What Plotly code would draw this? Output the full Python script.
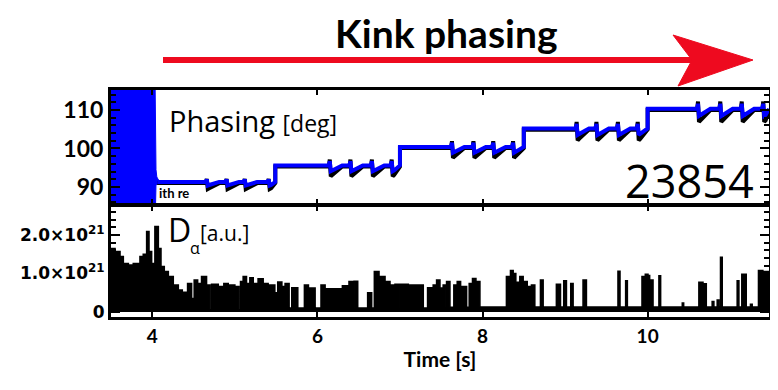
import plotly.graph_objects as go

# ---------------- data ----------------
# Top panel: coil phasing [deg]
seg_start = [4.06, 5.49, 7.00, 8.50, 10.00]
seg_end = [5.49, 7.00, 8.50, 10.00, 11.47]
levels = [91.3, 95.6, 100.4, 105.2, 110.3]
dip_times = [
    [4.66, 4.90, 5.12, 5.41],
    [6.15, 6.40, 6.66, 6.90],
    [7.63, 7.89, 8.13, 8.37],
    [9.14, 9.38, 9.64, 9.88],
    [10.61, 10.88, 11.14, 11.40],
]
dip_amp = [0.55, 0.9, 0.9, 1.0, 1.1]
dip_dt = [-0.012, 0.0, 0.012, 0.03, 0.15]
dip_dv = [0.0, 2.0, -2.8, -2.4, 0.0]

# saturated start of the phasing signal (blue block)
burst_t = [3.50, 3.50, 4.035, 4.040, 4.045, 4.055, 4.075, 4.10, 4.10, 4.045, 4.040]
burst_v = [85.7, 115.2, 115.2, 100.0, 94.5, 92.6, 91.8, 91.5, 90.8, 90.6, 85.7]

# Bottom panel: D-alpha [1e21 a.u.], step samples (time, value)
da_t = [3.500, 3.549, 3.609, 3.649, 3.710, 3.770, 3.851, 3.891, 3.932, 3.960,
        3.992, 4.032, 4.073, 4.105, 4.145, 4.194, 4.254, 4.315, 4.363, 4.428,
        4.476, 4.508, 4.549, 4.597, 4.657, 4.698, 4.718, 4.799, 4.851, 4.867,
        4.920, 5.000, 5.049, 5.069, 5.101, 5.141, 5.182, 5.222, 5.282, 5.343,
        5.403, 5.484, 5.520, 5.569, 5.609, 5.657, 5.690, 5.762, 5.843, 5.891,
        5.972, 6.044, 6.093, 6.294, 6.303, 6.383, 6.436, 6.444, 6.488, 6.609,
        6.657, 6.690, 6.746, 6.819, 6.879, 6.940, 7.000, 7.008, 7.101, 7.282,
        7.335, 7.403, 7.444, 7.484, 7.524, 7.557, 7.565, 7.605, 7.653, 7.694,
        7.734, 7.807, 7.839, 7.879, 7.920, 7.968, 8.290, 8.339, 8.371, 8.403,
        8.452, 8.492, 8.541, 8.593, 8.633, 8.702, 8.734, 8.895, 8.944, 8.984,
        9.016, 9.069, 9.097, 9.218, 9.258, 9.641, 9.665, 9.734, 9.754, 9.932,
        9.972, 10.004, 10.024, 10.065, 10.137, 10.157, 10.420, 10.436, 10.621, 10.670,
        10.710, 10.782, 10.802, 10.843, 10.863, 10.883, 10.903, 11.085, 11.105, 11.141,
        11.194, 11.246, 11.266, 11.343, 11.395, 11.470]
da_v = [1.65, 1.57, 1.44, 1.26, 1.22, 1.26, 1.44, 1.50, 2.09, 1.57,
        1.26, 2.22, 1.65, 1.18, 1.05, 0.92, 0.70, 0.57, 0.51, 0.74,
        0.35, 0.83, 0.74, 0.92, 0.70, 0.06, 0.72, 0.66, 0.06, 0.74,
        0.70, 0.66, 0.06, 0.79, 0.92, 0.74, 0.89, 0.74, 0.86, 0.74,
        0.70, 0.50, 0.78, 0.66, 0.74, 0.10, 0.63, 0.10, 0.70, 0.62,
        0.10, 0.70, 0.60, 0.10, 0.68, 0.79, 0.10, 0.80, 0.10, 0.50,
        0.10, 1.05, 0.92, 0.79, 0.70, 0.72, 0.10, 0.72, 0.70, 0.10,
        0.63, 0.70, 0.83, 0.62, 0.70, 0.12, 0.79, 0.12, 0.70, 0.79,
        0.66, 0.12, 0.74, 0.87, 0.79, 0.13, 0.92, 1.08, 1.00, 0.77,
        0.92, 0.79, 0.66, 0.70, 0.13, 0.83, 0.13, 0.72, 0.13, 0.81,
        0.13, 0.74, 0.13, 0.83, 0.13, 1.06, 0.13, 0.81, 0.13, 0.92,
        0.98, 0.95, 0.83, 0.13, 0.94, 0.13, 0.23, 0.13, 0.77, 0.73,
        0.13, 0.27, 0.13, 0.31, 0.13, 1.42, 0.13, 0.81, 0.13, 0.98,
        0.13, 0.20, 0.13, 1.08, 1.05, 1.05]

x_ticks = [4, 6, 8, 10]
top_ticks = [90, 100, 110]
bot_ticks = [0, 1, 2]
bot_ticktext = ["0", "1.0×10<sup>21</sup>", "2.0×10<sup>21</sup>"]
shot_number = "23854"


def phase_trace(scale, shift):
    t, v = [], []
    for i in range(len(levels)):
        L = levels[i] + shift
        t0, t1 = seg_start[i], seg_end[i]
        t.append(t0); v.append(L)
        for td in dip_times[i]:
            for dt, dv in zip(dip_dt, dip_dv):
                tt = td + dt
                if t0 < tt < t1:
                    t.append(tt); v.append(L + dip_amp[i] * scale * dv)
        t.append(t1); v.append(L)
    return t, v


fig = go.Figure()

bt, bv = phase_trace(1.0, -0.3)
ut, uv = phase_trace(0.6, 0.0)

fig.add_trace(go.Scatter(x=burst_t, y=burst_v, fill="toself", fillcolor="#0000ff",
                         line=dict(color="#0000ff", width=1), mode="lines",
                         xaxis="x", yaxis="y", hoverinfo="skip"))
fig.add_trace(go.Scatter(x=bt, y=bv, mode="lines", line=dict(color="black", width=4),
                         xaxis="x", yaxis="y"))
fig.add_trace(go.Scatter(x=ut, y=uv, mode="lines", line=dict(color="#0000ff", width=4),
                         xaxis="x", yaxis="y"))
fig.add_trace(go.Scatter(x=da_t, y=da_v, mode="lines", line_shape="hv",
                         line=dict(color="black", width=1.6), fill="tozeroy",
                         fillcolor="black", xaxis="x2", yaxis="y2"))

# page offset of the figure (default 8px body margin of the html page)
OFF = 8
W, H = 762, 374
# plot area in page pixels: x 111..769, y 90..317
ml, mt = 111 - OFF, 90 - OFF
mr = W - (769 - OFF)
mb = H - (317 - OFF)
pw, ph = W - ml - mr, H - mt - mb


def px(x):
    return (x - OFF - ml) / pw


def py(y):
    return (H - mb - (y - OFF)) / ph


bold = "Lato, DejaVu Sans, sans-serif"
wide = "DejaVu Sans, sans-serif"
axis_common = dict(showline=True, linecolor="black", linewidth=3, mirror="ticks",
                   ticks="inside", tickcolor="black", tickwidth=2, showgrid=False,
                   zeroline=False, automargin=False)

fig.update_layout(
    width=W, height=H, margin=dict(l=ml, r=mr, t=mt, b=mb, autoexpand=False),
    paper_bgcolor="white", plot_bgcolor="white", showlegend=False,
    xaxis=dict(domain=[0, 1], range=[3.5, 11.47], anchor="y", matches="x2",
               tickvals=x_ticks, ticklen=5, showticklabels=False, **axis_common),
    yaxis=dict(domain=[0.5, 1], range=[85.7, 115.2], anchor="x", tickvals=top_ticks,
               ticklen=9, tickfont=dict(family=bold, size=23, color="black", weight="bold"),
               minor=dict(dtick=2, ticklen=5, ticks="inside", tickcolor="black", tickwidth=1.5),
               **axis_common),
    xaxis2=dict(domain=[0, 1], range=[3.5, 11.47], anchor="y2", tickvals=x_ticks,
                ticklen=5, tickfont=dict(family=bold, size=19, color="black", weight="bold"),
                title=dict(text="Time [s]", standoff=7,
                           font=dict(family=bold, size=21, color="black", weight="bold")),
                **axis_common),
    yaxis2=dict(domain=[0, 0.49], range=[-0.13, 2.76], anchor="x2", tickvals=bot_ticks,
                ticktext=bot_ticktext, ticklen=9,
                tickfont=dict(family=wide, size=17, color="black", weight="bold"),
                minor=dict(dtick=0.2, ticklen=5, ticks="inside", tickcolor="black", tickwidth=1.5),
                **axis_common),
)

thin = "Open Sans, Noto Sans, sans-serif"
ann = [
    dict(text="Kink phasing", x=px(446), y=py(33), xanchor="center", yanchor="middle",
         font=dict(family="Lato, sans-serif", size=39, color="black", weight="bold")),
    dict(text="Phasing <span style='font-size:23px'>[deg]</span>", x=px(167), y=py(120),
         xanchor="left", yanchor="middle", font=dict(family=thin, size=29, color="black")),
    dict(text=shot_number, x=px(756), y=py(180), xanchor="right", yanchor="middle",
         font=dict(family=thin, size=45, color="black")),
    dict(text="D", x=px(166), y=py(229), xanchor="left", yanchor="middle",
         font=dict(family=thin, size=32, color="black")),
    dict(text="α", x=px(188), y=py(248), xanchor="left", yanchor="middle",
         font=dict(family=thin, size=16, color="black")),
    dict(text="[a.u.]", x=px(198), y=py(233), xanchor="left", yanchor="middle",
         font=dict(family=thin, size=21, color="black")),
    dict(text="ith re", x=px(157), y=py(193), xanchor="left", yanchor="middle",
         font=dict(family="Lato, sans-serif", size=13, color="black", weight="bold")),
]
for a in ann:
    a.update(xref="paper", yref="paper", showarrow=False)
fig.update_layout(annotations=ann)

red = "#ee0a1f"
fig.add_shape(type="line", xref="paper", yref="paper", x0=px(163), x1=px(692),
              y0=py(60), y1=py(60), line=dict(color=red, width=6))
path = "M {} {} L {} {} L {} {} L {} {} Z".format(
    px(673), py(35), px(753), py(60), px(678), py(86), px(692), py(60))
fig.add_shape(type="path", xref="paper", yref="paper", path=path,
              fillcolor=red, line=dict(color=red, width=1))

fig.write_html("out.html")
